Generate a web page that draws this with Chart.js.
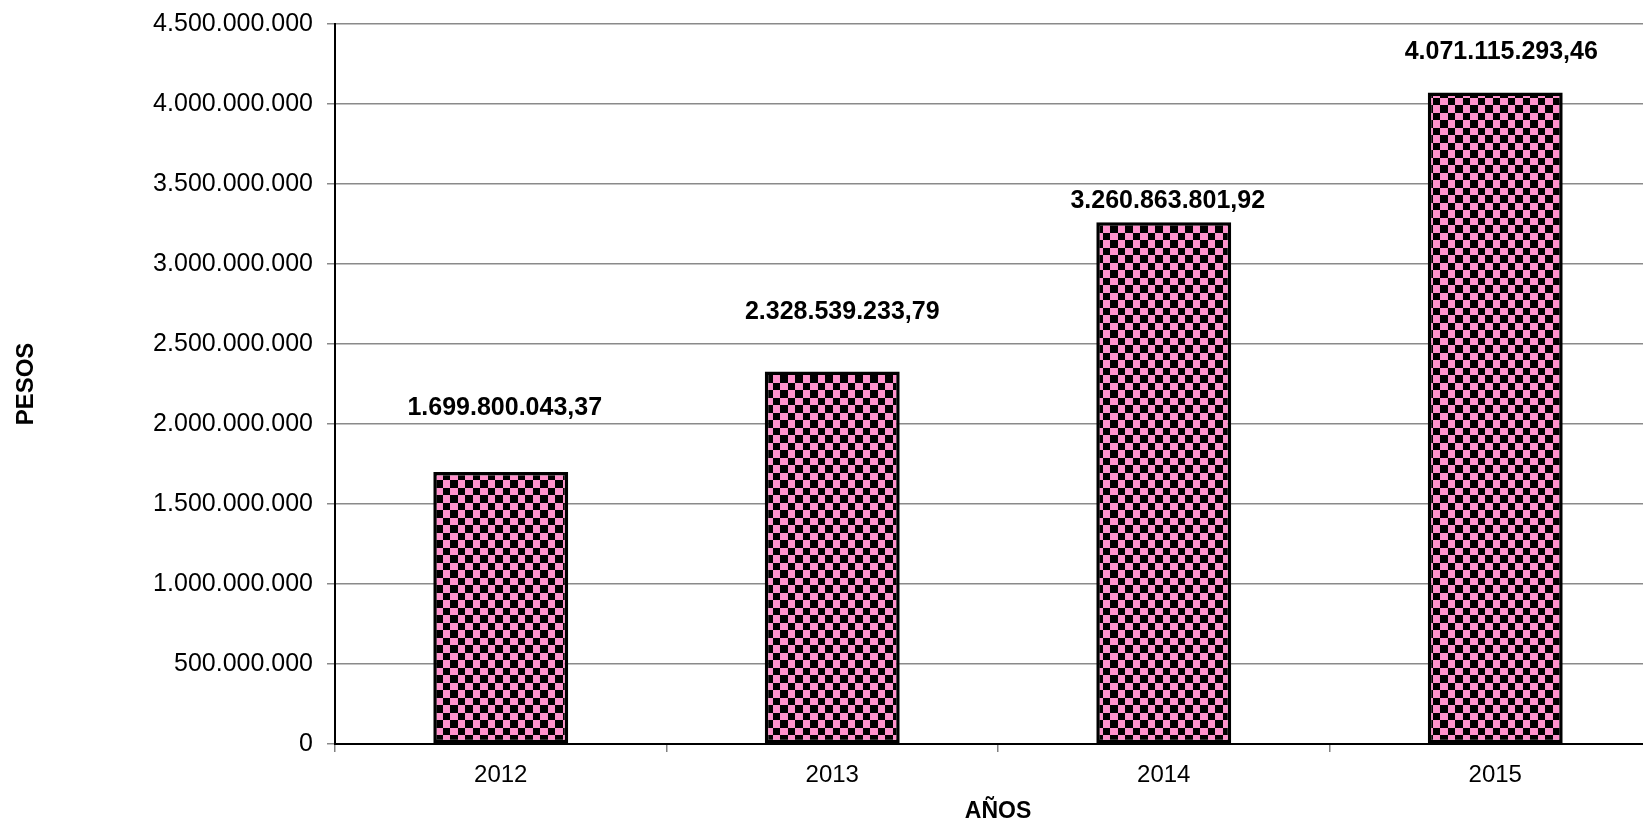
<!DOCTYPE html>
<html>
<head>
<meta charset="utf-8">
<script src="https://cdn.jsdelivr.net/npm/chart.js@4"></script>
<style>
  html, body { margin: 0; padding: 0; background: #fff; overflow: hidden; }
  #wrap { position: absolute; left: 0; top: 0; width: 1680px; height: 822px; }
</style>
</head>
<body>
<div id="wrap"><canvas id="grafico" width="1680" height="822"></canvas></div>
<script>
const anios = ["2012", "2013", "2014", "2015"]
const pesos = [1699800043.37, 2328539233.79, 3260863801.92, 4071115293.46]
const ejeMax = 4500000000
const ejePaso = 500000000

const fuente = "'Liberation Sans', Arial, sans-serif"

// separador de miles con punto, decimales con coma
const miles = (n) => String(n).replace(/\B(?=(\d{3})+(?!\d))/g, ".")
const formatoPesos = (v) => {
    const [ent, dec] = v.toFixed(2).split(".")
    return miles(ent) + "," + dec
}

// relleno a cuadros rosa / negro
const patron = () => {
    const c = document.createElement("canvas")
    c.width = 15
    c.height = 15
    const g = c.getContext("2d")
    g.fillStyle = "#ff92cc"
    g.fillRect(0, 0, 15, 15)
    g.fillStyle = "#000"
    g.fillRect(0, 0, 8, 8)
    g.fillRect(8, 8, 7, 7)
    return g.createPattern(c, "repeat")
}

const etiquetas = {
    id: "etiquetas",
    afterDatasetsDraw(chart, args, opts) {
        const ctx = chart.ctx
        const meta = chart.getDatasetMeta(0)
        ctx.save()
        ctx.font = "bold 25px " + fuente
        ctx.fillStyle = "#000"
        ctx.textAlign = "center"
        ctx.textBaseline = "middle"
        meta.data.forEach((bar, i) => {
            const txt = formatoPesos(chart.data.datasets[0].data[i])
            ctx.fillText(txt, bar.x + opts.dx[i], bar.y - opts.dy[i])
        })
        ctx.restore()
    }
}

const ctx = document.querySelector("#grafico")

new Chart(ctx, {
    type: "bar",
    data: {
        labels: anios,
        datasets: [
            {
                data: pesos,
                backgroundColor: patron(),
                borderColor: "#000",
                borderWidth: 3.5,
                borderSkipped: false,
                categoryPercentage: 1,
                barPercentage: 0.407,
            },
        ],
    },
    plugins: [etiquetas],
    options: {
        responsive: false,
        animation: false,
        layout: { padding: { top: 24, right: 19, left: 0, bottom: 0 } },
        plugins: {
            legend: { display: false },
            tooltip: { enabled: false },
            etiquetas: { dy: [64, 59, 21, 41], dx: [4, 10, 4, 6] },
        },
        scales: {
            x: {
                grid: { display: true, drawOnChartArea: false, drawTicks: true, tickLength: 8, color: "#808080", lineWidth: 1.5 },
                border: { color: "#000", width: 2 },
                ticks: { color: "#000", padding: 9, font: { family: fuente, size: 24 } },
                title: { display: true, text: "AÑOS", color: "#000", padding: { top: 0, bottom: -3 }, font: { family: fuente, size: 23, weight: "bold" } },
                afterFit: (s) => { s.height = 78 },
            },
            y: {
                min: 0,
                max: ejeMax,
                ticks: {
                    stepSize: ejePaso,
                    color: "#000",
                    padding: 14,
                    font: { family: fuente, size: 25 },
                    callback: (v) => miles(v),
                },
                grid: { color: "#8a8a8a", lineWidth: 1.5, tickLength: 8 },
                border: { color: "#000", width: 2 },
                title: { display: true, text: "PESOS", color: "#000", padding: 12, font: { family: fuente, size: 24, weight: "bold" } },
                afterFit: (s) => {
                    s.width = 335
                    s.paddingTop = 0
                    s.paddingBottom = 0
                },
            },
        },
    },
})
</script>
</body>
</html>
